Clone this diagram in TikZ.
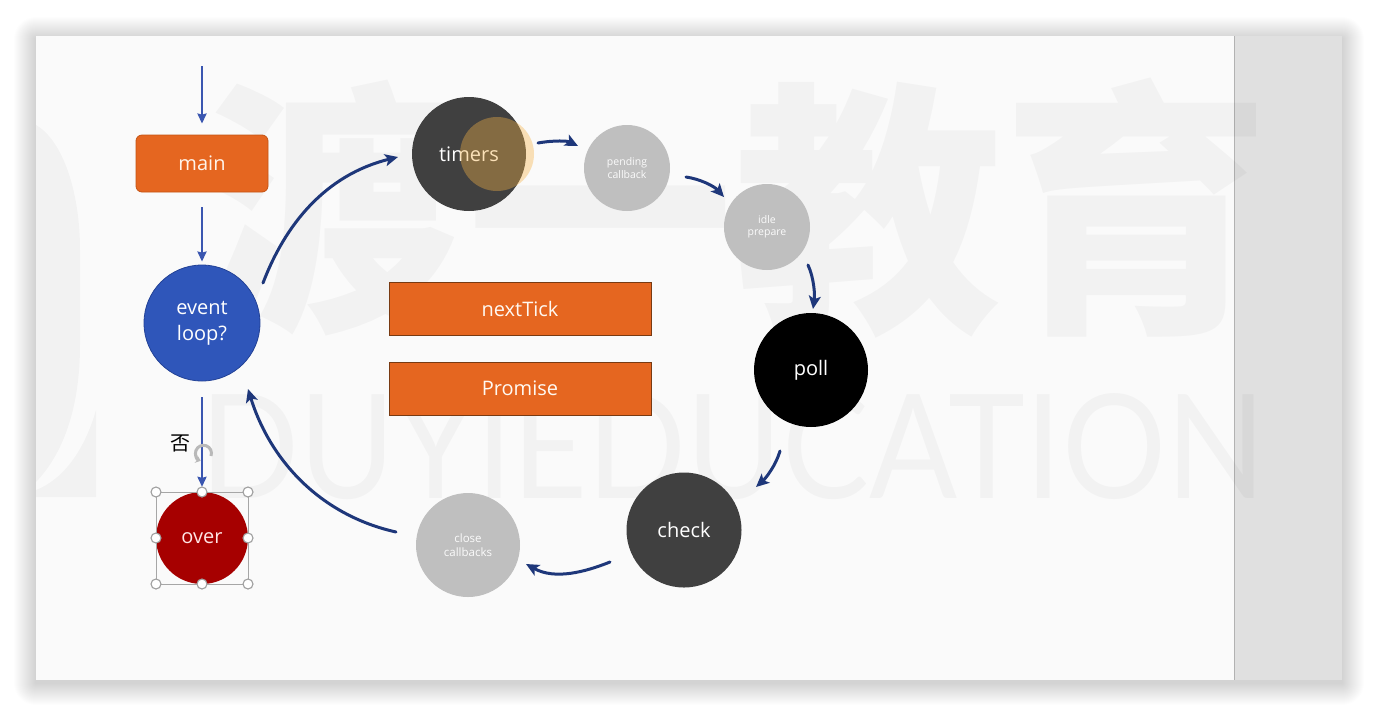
\documentclass[tikz,border=0pt]{standalone}
\usepackage{fontspec}
\setmainfont{Open Sans}
\newfontfamily\cjk{Noto Sans CJK SC}
\newfontfamily\wmfont{Lato}
\usetikzlibrary{arrows.meta,calc}
\definecolor{slidebg}{RGB}{250,250,250}
\definecolor{bandgray}{RGB}{224,224,224}
\definecolor{orangeA}{RGB}{229,102,32}
\definecolor{orangeB}{RGB}{196,84,20}
\definecolor{rectedge}{RGB}{120,58,18}
\definecolor{evblue}{RGB}{47,86,186}
\definecolor{evedge}{RGB}{35,66,150}
\definecolor{overred}{RGB}{166,0,0}
\definecolor{dgray}{RGB}{64,64,64}
\definecolor{lgray}{RGB}{191,191,191}
\definecolor{navy}{RGB}{30,55,122}
\definecolor{sblue}{RGB}{58,86,176}
\definecolor{hilite}{RGB}{245,178,70}
\tikzset{
  circ/.style={circle, inner sep=0pt, text=white, align=center,
    font=\fontsize{20}{26}\selectfont},
  smallc/.style={circle, inner sep=0pt, fill=lgray, text=white!97!gray, align=center,
    minimum size=86pt, font=\fontsize{10.5}{12.5}\selectfont},
  pill/.style={rectangle, rounded corners=6pt, fill=orangeA, draw=orangeB, line width=0.8pt,
    minimum width=132pt, minimum height=57pt, text=white!92!orange,
    font=\fontsize{20}{24}\selectfont},
  rectbox/.style={rectangle, fill=orangeA, draw=rectedge, line width=0.9pt,
    minimum width=262pt, minimum height=53pt, text=white!95!orange,
    font=\fontsize{20}{24}\selectfont},
  narr/.style={draw=navy, line width=3pt, line cap=round,
    -{Stealth[length=13pt,width=12pt,inset=3pt]}},
  barr/.style={draw=sblue, line width=2.5pt,
    -{Stealth[length=10pt,width=9pt,inset=1pt]}},
  handle/.style={circle, fill=white, draw=gray!75, line width=1.1pt, inner sep=0pt, minimum size=10pt},
  wm/.style={inner sep=0pt, text=black, text opacity=0.032}
}
\begin{document}
\begin{tikzpicture}[x=1pt,y=-1pt]
\useasboundingbox (0,0) rectangle (1378,716);
\fill[white] (0,0) rectangle (1378,716);
% shadow
\foreach \i in {1,...,22} {
  \fill[black, opacity=0.007, rounded corners=\i pt] (36-\i,36-\i+3) rectangle (1342+\i,680+\i+3);
}
% slide
\fill[slidebg] (36,36) rectangle (1234,680);
\fill[bandgray] (1234,36) rectangle (1342,680);
\draw[gray!60, line width=0.8pt] (1234,36) -- (1234,680);
% watermark
\begin{scope}
\clip (36,36) rectangle (1342,680);
\node[wm, anchor=base west, font=\cjk\bfseries\fontsize{268}{268}\selectfont] (wmA) at (198,311) {渡一教育};
\node[wm, anchor=south west] (wmB) at (200,500) {\resizebox{1065pt}{105pt}{\wmfont\fontsize{100}{100}\selectfont DUYIEDUCATION}};
\fill[black, opacity=0.03] (36,125) .. controls (62,140) and (80,190) .. (80,250) -- (80,345)
   .. controls (80,410) and (62,455) .. (36,482) -- cycle;
\fill[black, opacity=0.03] (36,497) -- (96,497) -- (96,410) .. controls (84,452) and (62,480) .. (36,490) -- cycle;
\end{scope}
% nodes
\coordinate (top) at (202,66);
\node[pill] (main) at (202,163.5) {\raisebox{-1.5pt}{main}};
\node[circ, fill=evblue, draw=evedge, line width=0.8pt, minimum size=116pt] (ev) at (202,323) {event\\loop?};
\node[circ, fill=overred, text=white!90!red, minimum size=92pt] (over) at (202,538) {\raisebox{-2pt}{over}};
\node[circ, fill=dgray, minimum size=114pt] (tm) at (469,154) {\raisebox{-2pt}{timers}};
\node[smallc] (pd) at (627,168) {pending\\callback};
\node[smallc] (id) at (767,227) {idle\\prepare};
\node[circ, fill=black, minimum size=114pt] (poll) at (811,370) {\raisebox{-2pt}{poll}};
\node[circ, fill=dgray, minimum size=115pt] (ck) at (684,530) {check};
\node[smallc, minimum size=104pt, font=\fontsize{11.5}{14}\selectfont] (cl) at (468,545) {close\\callbacks};
\node[rectbox] (nt) at (520,308.5) {\raisebox{-1.5pt}{nextTick}};
\node[rectbox] (pr) at (520,388.5) {\raisebox{-1.5pt}{Promise}};
% click highlight on timers
\fill[hilite, opacity=0.38] ($(tm)+(28,0)$) circle (37pt);
% straight arrows
\draw[barr, shorten >=11pt] (top) -- (main.north);
\draw[barr, shorten <=15pt, shorten >=3pt] (main) -- (ev);
\draw[barr, shorten <=16pt, shorten >=5pt] (ev) -- (over);
\node[font=\cjk\fontsize{20}{20}\selectfont, inner sep=0pt] (no) at (180,443) {否};
% rotation handle
\draw[gray!55, line width=3pt, -{Stealth[length=5pt,width=8pt]}] (211,456) arc[start angle=-20, end angle=250, radius=8pt];
% selection box
\draw[gray!70, line width=0.8pt] ($(over)+(-46,-46)$) rectangle ($(over)+(46,46)$);
\foreach \dx/\dy in {-46/-46,0/-46,46/-46,-46/0,46/0,-46/46,0/46,46/46} {
  \node[handle] at ($(over)+(\dx,\dy)$) {};
}
% loop arrows
\draw[narr] ($(ev)+(61,-40)$) .. controls (285,225) and (325,175) .. ($(tm)+(-71,3)$);
\draw[narr] ($(tm)+(69,-11)$) .. controls (555,140) and (568,141) .. ($(pd)+(-49,-22)$);
\draw[narr] ($(pd)+(59,9)$) .. controls (700,179) and (714,186) .. ($(id)+(-43,-30)$);
\draw[narr] ($(id)+(41,38)$) .. controls (814,278) and (815,295) .. ($(poll)+(2,-61)$);
\draw[narr] ($(poll)+(-31,81)$) .. controls (776,465) and (766,478) .. ($(ck)+(72,-43)$);
\draw[narr] ($(ck)+(-74,32)$) .. controls (585,572) and (555,580) .. ($(cl)+(58,19)$);
\draw[narr] ($(cl)+(-72,-13)$) .. controls (320,515) and (270,460) .. ($(ev)+(46,66)$);
\end{tikzpicture}
\end{document}
